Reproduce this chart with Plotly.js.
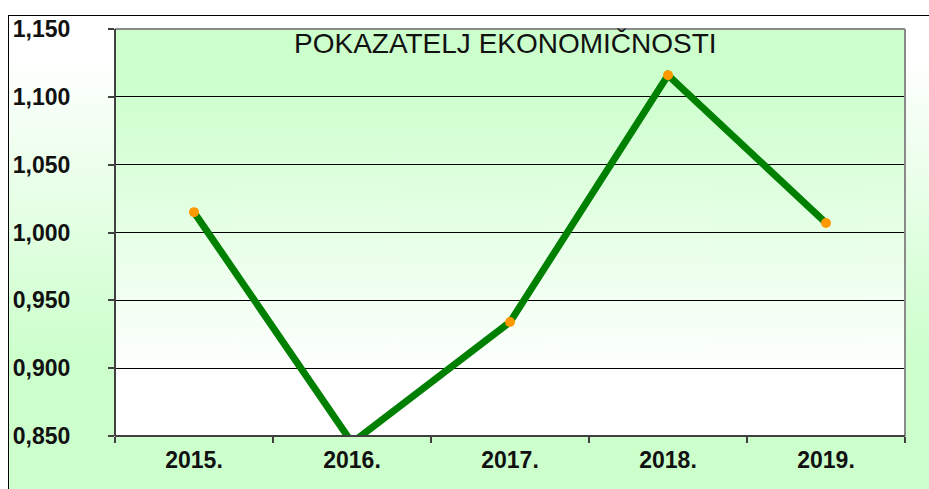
<!DOCTYPE html>
<html>
<head>
<meta charset="utf-8">
<script src="https://cdn.plot.ly/plotly-3.0.1.min.js"></script>
<style>
  html, body { margin: 0; padding: 0; background: #ffffff; }
  #wrap { position: relative; width: 929px; height: 489px; overflow: hidden; }
  #frame { position: absolute; left: 8px; top: 15px; right: -2px; bottom: -2px;
           border-top: 1px solid #000; border-left: 1px solid #000;
           background: linear-gradient(to bottom, #ffffff 0%, #ffffff 8%, #ccffcc 72%, #ccffcc 100%); }
  #chart { position: absolute; left: 0; top: 0; width: 929px; height: 489px; }
</style>
</head>
<body>
<div id="wrap">
  <div id="frame"></div>
  <div id="chart"></div>
</div>
<script>
const years = ['2015.', '2016.', '2017.', '2018.', '2019.'];
const values = [1.015, 0.845, 0.934, 1.116, 1.007];
const yTicks = [0.85, 0.90, 0.95, 1.00, 1.05, 1.10, 1.15];
const chartTitle = 'POKAZATELJ EKONOMIČNOSTI';

// gradient image for plot area
const cv = document.createElement('canvas');
cv.width = 10; cv.height = 400;
const ctx = cv.getContext('2d');
const g = ctx.createLinearGradient(0, 0, 0, 400);
g.addColorStop(0, '#ccffcc');
g.addColorStop(0.12, '#ccffcc');
g.addColorStop(0.85, '#ffffff');
g.addColorStop(1, '#ffffff');
ctx.fillStyle = g;
ctx.fillRect(0, 0, 10, 400);
const gradURL = cv.toDataURL('image/png');

const trace = {
  x: years,
  y: values,
  type: 'scatter',
  mode: 'lines+markers',
  line: { color: '#008000', width: 7 },
  marker: { color: '#ff9900', size: 10 },
  cliponaxis: true,
  hoverinfo: 'x+y'
};

const fontFam = '"Liberation Sans", Arial, sans-serif';

const layout = {
  width: 929, height: 489,
  margin: { l: 115, r: 24, t: 29, b: 53 },
  paper_bgcolor: 'rgba(0,0,0,0)',
  plot_bgcolor: 'rgba(0,0,0,0)',
  separators: ',.',
  showlegend: false,
  xaxis: {
    type: 'category',
    range: [-0.5, 4.5],
    tickson: 'boundaries',
    ticks: 'outside', ticklen: 6, tickcolor: '#404040', tickwidth: 2,
    showgrid: false, zeroline: false,
    showline: false,
    tickfont: { family: fontFam, size: 23, color: '#111', weight: 'bold' },
    ticklabelstandoff: 8
  },
  yaxis: {
    range: [0.85, 1.15],
    tickvals: yTicks,
    tickformat: '.3f',
    ticks: 'outside', ticklen: 6, tickcolor: '#404040', tickwidth: 2,
    showgrid: true, gridcolor: '#000000', gridwidth: 1,
    zeroline: false, showline: false,
    tickfont: { family: fontFam, size: 23, color: '#111', weight: 'bold' },
    ticklabelstandoff: 33
  },
  images: [{
    source: gradURL, xref: 'paper', yref: 'paper',
    x: 0, y: 1, sizex: 1, sizey: 1, sizing: 'stretch', layer: 'below'
  }],
  shapes: [
    { type: 'line', xref: 'paper', yref: 'paper', x0: 0, x1: 1, y0: 1, y1: 1, line: { color: '#8a8a8a', width: 2 } },
    { type: 'line', xref: 'paper', yref: 'paper', x0: 1, x1: 1, y0: 0, y1: 1, line: { color: '#8a8a8a', width: 2 } },
    { type: 'line', xref: 'paper', yref: 'paper', x0: 0, x1: 0, y0: 0, y1: 1, line: { color: '#404040', width: 2 } },
    { type: 'line', xref: 'paper', yref: 'paper', x0: 0, x1: 1, y0: 0, y1: 0, line: { color: '#404040', width: 2 } }
  ],
  annotations: [{
    text: chartTitle, xref: 'paper', yref: 'paper', x: 0.494, y: 0.965,
    xanchor: 'center', yanchor: 'middle', showarrow: false,
    font: { family: fontFam, size: 28, color: '#111' }
  }]
};

Plotly.newPlot('chart', [trace], layout, { displayModeBar: false, staticPlot: true });
</script>
</body>
</html>
